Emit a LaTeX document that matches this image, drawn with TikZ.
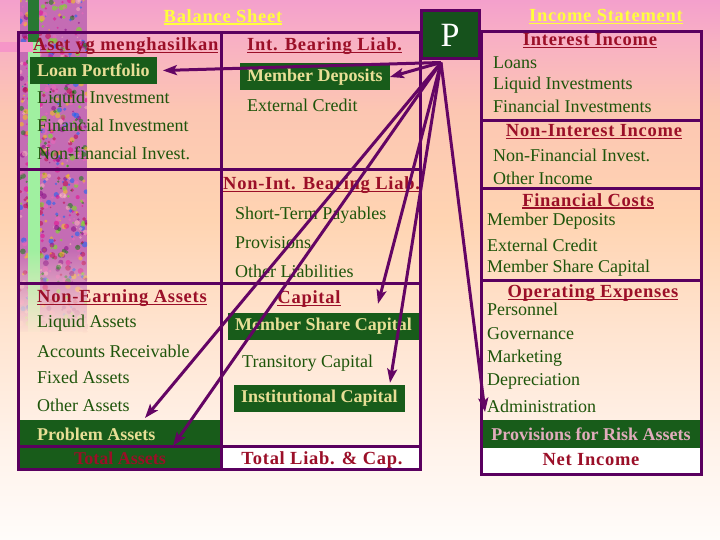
\documentclass[tikz,border=0pt]{standalone}
\usepackage{fontspec}
\setmainfont{Liberation Serif}
\usetikzlibrary{arrows.meta,fadings}
\definecolor{frm}{RGB}{90,0,95}
\definecolor{arrc}{RGB}{100,5,100}
\definecolor{gfill}{RGB}{24,92,26}
\definecolor{pfill}{RGB}{22,82,28}
\definecolor{tred}{RGB}{155,15,40}
\definecolor{tgreen}{RGB}{30,85,10}
\definecolor{tbeige}{RGB}{232,222,150}
\definecolor{tpinkish}{RGB}{225,172,188}
\definecolor{tyellow}{RGB}{255,255,60}
\definecolor{bg1}{RGB}{244,160,204}
\definecolor{bg2}{RGB}{248,176,196}
\definecolor{bg3}{RGB}{252,198,178}
\definecolor{bg4}{RGB}{255,212,178}
\definecolor{bg5}{RGB}{255,228,208}
\definecolor{bg6}{RGB}{255,243,235}
\definecolor{bg7}{RGB}{255,252,250}
\definecolor{stripbase}{RGB}{196,108,180}
\definecolor{gdark}{RGB}{40,120,50}
\definecolor{glight}{RGB}{160,240,160}
\definecolor{pinkband}{RGB}{246,150,200}
\pgfdeclareverticalshading{bgsh}{100bp}{color(0bp)=(bg7); color(25bp)=(bg7); color(33.3bp)=(bg6); color(44.4bp)=(bg5); color(54.6bp)=(bg4); color(64.8bp)=(bg3); color(71.3bp)=(bg2); color(75bp)=(bg1); color(100bp)=(bg1)}
\pgfmathdeclarerandomlist{stripcols}{{violet}{magenta}{green!50!black}{yellow!70!orange}{pink}{blue!60!cyan}{purple}{magenta!60!white}{green!60!yellow}}
\newcommand{\myul}[1]{\setbox0=\hbox{#1}\rlap{\rule[-2.5pt]{\wd0}{1.3pt}}\box0}
\begin{document}
\begin{tikzpicture}[x=1pt,y=-1pt,
  frame/.style={draw=frm, line width=3pt},
  item/.style={anchor=west, inner sep=0pt, text=tgreen, font=\fontsize{18}{20}\selectfont},
  head/.style={inner sep=0pt, text=tred, font=\bfseries\fontsize{18.5}{20}\selectfont\addfontfeatures{LetterSpace=4.0}},
  titl/.style={inner sep=0pt, text=tyellow, font=\bfseries\fontsize{18.5}{20}\selectfont\addfontfeatures{LetterSpace=4.0}},
  gboxt/.style={anchor=west, fill=gfill, inner xsep=7pt, inner ysep=0pt, minimum height=27pt, text=tbeige, font=\bfseries\fontsize{18}{20}\selectfont},
  rowbox/.style={anchor=north west, fill=gfill, inner sep=0pt},
  rowtxt/.style={inner sep=0pt, font=\bfseries\fontsize{18}{20}\selectfont},
  arr/.style={draw=arrc, line width=3pt, -{Stealth[length=14pt,width=10pt,inset=3pt]}}
]
\useasboundingbox (0,0) rectangle (720,540);
\shade[shading=bgsh] (0,0) rectangle (720,540);
% decorative strip
\begin{scope}
\clip (20,0) rectangle (87,332);
\fill[stripbase] (20,0) rectangle (87,332);
\pgfmathsetseed{11}
\foreach \i in {1,...,700}{
  \pgfmathsetmacro{\xx}{20+67*rnd}
  \pgfmathsetmacro{\yy}{332*rnd}
  \pgfmathsetmacro{\rr}{0.8+2.2*rnd}
  \pgfmathrandomitem{\cc}{stripcols}
  \fill[fill=\cc, opacity=0.5] (\xx,\yy) circle (\rr pt);
}
\fill[gdark] (28,0) rectangle (39,42);
\fill[glight] (28,42) rectangle (40,332);
\end{scope}
\fill[bg5, path fading=north] (20,250) rectangle (87,334);
\fill[pinkband] (0,42) rectangle (33,52);
% white rows
\fill[white] (221.5,446) rectangle (420,469.5);
\fill[white] (481,448) rectangle (701.5,474.5);
% row boxes
\node[rowbox, minimum width=200pt, minimum height=25pt] (prob) at (20,420) {};
\node[rowbox, minimum width=200pt, minimum height=22pt] (tot) at (20,447) {};
\node[rowbox, minimum width=218pt, minimum height=28pt] (prov) at (482,420) {};
% frames
\draw[frame] (18.5,32.5) rectangle (420,469.5);
\draw[frame] (221.5,32.5) -- (221.5,469.5);
\draw[frame] (18.5,170) -- (420,170);
\draw[frame] (18.5,283) -- (420,283);
\draw[frame] (18.5,446) -- (420,446);
\draw[frame] (481,32) rectangle (701.5,474.5);
\draw[frame] (481,121) -- (701.5,121);
\draw[frame] (481,189) -- (701.5,189);
\draw[frame] (481,280) -- (701.5,280);
% P box
\node[draw=frm, line width=3pt, fill=pfill, minimum width=58pt, minimum height=48pt, text=white, font=\fontsize{34}{36}\selectfont, inner sep=0pt] (P) at (450,35) {P};
% titles
\node[titl] (tbs) at (223,17) {\myul{Balance Sheet}};
\node[titl] (tis) at (606,17) {\myul{Income Statement}};
% balance sheet left
\node[head, anchor=west] (h1) at (33,46) {\myul{Aset yg menghasilkan}};
\node[gboxt] (loan) at (30,70.5) {Loan Portfolio};
\node[item] (a1) at (37,99) {Liquid Investment};
\node[item] (a2) at (37,125) {Financial Investment};
\node[item] (a3) at (37,153) {Non-financial Invest.};
\node[head, anchor=west] (h2) at (37,298) {\myul{Non-Earning Assets}};
\node[item] (b1) at (37,323) {Liquid Assets};
\node[item] (b2) at (37,351) {Accounts Receivable};
\node[item] (b3) at (37,377) {Fixed Assets};
\node[item] (b4) at (37,405) {Other Assets};
\node[rowtxt, anchor=west, text=tbeige] (probt) at (37,434) {Problem Assets};
\node[rowtxt, text=tred] (tott) at (120,458) {Total Assets};
% balance sheet right
\node[head, anchor=west] (h3) at (247,46) {\myul{Int. Bearing Liab.}};
\node[gboxt] (md) at (240,77) {Member Deposits};
\node[item] (c1) at (247,105) {External Credit};
\node[head, anchor=west] (h4) at (223,185) {\myul{Non-Int. Bearing Liab.}};
\node[item] (d1) at (235,215) {Short-Term Payables};
\node[item] (d2) at (235,243) {Provisions};
\node[item] (d3) at (235,271) {Other Liabilities};
\node[head] (h5) at (309,299) {\myul{Capital}};
\node[gboxt] (msc) at (228,326.5) {Member Share Capital};
\node[item] (e1) at (242,363) {Transitory Capital};
\node[gboxt] (inst) at (234,398.5) {Institutional Capital};
\node[head] (tlc) at (322,460) {Total Liab. \& Cap.};
% income statement
\node[head] (i1) at (590,41) {\myul{Interest Income}};
\node[item] (f1) at (493,63) {Loans};
\node[item] (f2) at (493,85) {Liquid Investments};
\node[item] (f3) at (493,106) {Financial Investments};
\node[head] (i2) at (594,132) {\myul{Non-Interest Income}};
\node[item] (g1) at (493,155) {Non-Financial Invest.};
\node[item] (g2) at (493,178) {Other Income};
\node[head] (i3) at (588,201) {\myul{Financial Costs}};
\node[item] (k1) at (487,221) {Member Deposits};
\node[item] (k2) at (487,245) {External Credit};
\node[item] (k3) at (487,268) {Member Share Capital};
\node[head] (i4) at (593,293) {\myul{Operating Expenses}};
\node[item] (m1) at (487,309) {Personnel};
\node[item] (m2) at (487,334) {Governance};
\node[item] (m3) at (487,358) {Marketing};
\node[item] (m4) at (487,381) {Depreciation};
\node[item] (admin) at (487,406) {Administration};
\node[rowtxt, text=tpinkish] (provt) at (591,434) {Provisions for Risk Assets};
\node[head] (ni) at (591,460) {Net Income};
% arrows
\coordinate (pf) at ([xshift=-9pt,yshift=-2pt]P.south);
\draw[arr] (pf) -- ([xshift=6pt]loan.east);
\draw[arr] (pf) -- (md.east);
\draw[arr] (pf) -- ([xshift=125pt,yshift=2pt]prob.north west);
\draw[arr] (pf) -- ([xshift=153pt,yshift=1pt]tot.north west);
\draw[arr] (pf) -- ([xshift=150pt,yshift=9pt]msc.north west);
\draw[arr] (pf) -- ([xshift=156pt,yshift=2pt]inst.north west);
\draw[arr] (pf) -- ([xshift=-2pt,yshift=-6pt]admin.west);
\end{tikzpicture}
\end{document}
